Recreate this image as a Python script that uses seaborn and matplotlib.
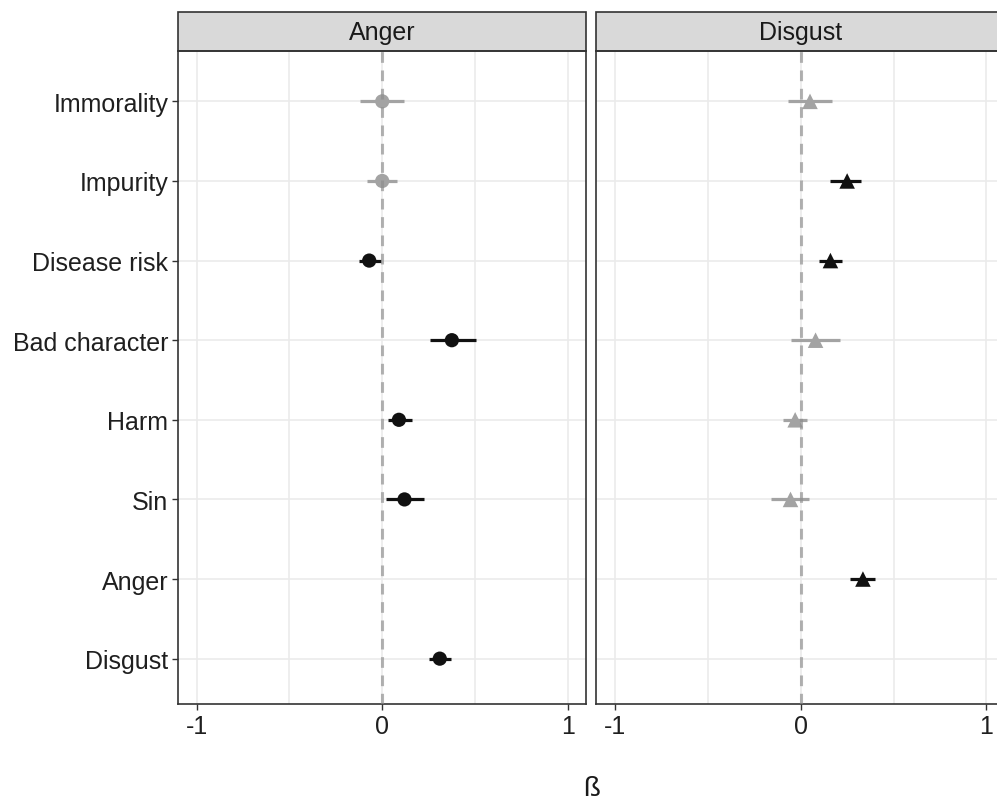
import numpy as np
import pandas as pd
import matplotlib
matplotlib.use("Agg")
import matplotlib.pyplot as plt
from matplotlib.patches import Rectangle
import seaborn as sns

# predictor order, top to bottom
predictors = ["Immorality", "Impurity", "Disease risk", "Bad character",
              "Harm", "Sin", "Anger", "Disgust"]
outcomes = ["Anger", "Disgust"]

# outcome: Anger
anger_preds = ["Immorality", "Impurity", "Disease risk", "Bad character",
               "Harm", "Sin", "Disgust"]
anger_beta = [0.00, 0.00, -0.07, 0.375, 0.09, 0.12, 0.31]
anger_lower = [-0.12, -0.08, -0.125, 0.255, 0.03, 0.02, 0.25]
anger_upper = [0.12, 0.08, -0.005, 0.505, 0.16, 0.225, 0.37]
anger_sig = [False, False, True, True, True, True, True]

# outcome: Disgust
disgust_preds = ["Immorality", "Impurity", "Disease risk", "Bad character",
                 "Harm", "Sin", "Anger"]
disgust_beta = [0.05, 0.25, 0.16, 0.08, -0.03, -0.055, 0.335]
disgust_lower = [-0.07, 0.16, 0.10, -0.05, -0.095, -0.16, 0.265]
disgust_upper = [0.17, 0.325, 0.22, 0.21, 0.035, 0.045, 0.40]
disgust_sig = [False, True, True, False, False, False, True]

x_ticks = [-1, 0, 1]
x_label = "ß"

df = pd.concat([
    pd.DataFrame({"outcome": "Anger", "predictor": anger_preds, "beta": anger_beta,
                  "lower": anger_lower, "upper": anger_upper, "sig": anger_sig}),
    pd.DataFrame({"outcome": "Disgust", "predictor": disgust_preds, "beta": disgust_beta,
                  "lower": disgust_lower, "upper": disgust_upper, "sig": disgust_sig}),
], ignore_index=True)
df["ypos"] = pd.Categorical(df["predictor"], categories=predictors).codes

sns.set_theme(style="white")
plt.rcParams["font.family"] = ["Liberation Sans", "DejaVu Sans"]
plt.rcParams["axes.unicode_minus"] = False

palette = {True: "#111111", False: "#A3A3A3"}
markers = {"Anger": "o", "Disgust": "^"}
border = "#333333"


def draw_panel(data, **kwargs):
    ax = plt.gca()
    outcome = data["outcome"].iloc[0]
    for sig, grp in data.groupby("sig"):
        ax.hlines(grp["ypos"], grp["lower"], grp["upper"], colors=palette[sig],
                  lw=2.3, zorder=3)
    sns.scatterplot(data=data, x="beta", y="ypos", hue="sig", palette=palette,
                    marker=markers[outcome], s=105 if outcome == "Anger" else 125,
                    edgecolor="none", legend=False, ax=ax, zorder=4)
    ax.axvline(0, color="#8c8c8c", alpha=0.65, lw=2.2, ls=(0, (3.5, 2.5)), zorder=5)


g = sns.FacetGrid(df, col="outcome", col_order=outcomes, sharex=True, sharey=True)
g.map_dataframe(draw_panel)
fig = g.figure
fig.set_size_inches(9.97, 8.03)
fig.subplots_adjust(left=0.1785, right=1.008, top=0.935, bottom=0.122, wspace=0.0245)

strip_h = 39 / 653
for i, (ax, name) in enumerate(zip(g.axes.flat, outcomes)):
    ax.set_title("")
    ax.set_xlim(-1.1, 1.1)
    ax.set_ylim(len(predictors) - 0.43, -0.63)
    ax.set_xticks(x_ticks)
    ax.set_xticklabels([str(t) for t in x_ticks])
    ax.set_xticks([-0.5, 0.5], minor=True)
    ax.set_yticks(range(len(predictors)))
    ax.set_yticklabels(predictors)
    ax.grid(True, which="major", color="#EBEBEB", lw=1.2)
    ax.grid(True, which="minor", axis="x", color="#EBEBEB", lw=1.2)
    ax.set_axisbelow(True)
    ax.tick_params(which="major", length=4, width=1, color=border,
                   labelsize=18, labelcolor="#1f1f1f", bottom=True, left=(i == 0),
                   labelleft=(i == 0), pad=3)
    ax.tick_params(which="minor", length=0)
    ax.set_xlabel("")
    ax.set_ylabel("")
    for sp in ax.spines.values():
        sp.set_visible(True)
        sp.set_color(border)
        sp.set_linewidth(1.2)
    ax.add_patch(Rectangle((0, 1), 1, strip_h, transform=ax.transAxes,
                           facecolor="#D9D9D9", edgecolor=border, lw=1.2,
                           clip_on=False))
    ax.text(0.5, 1 + strip_h / 2, name, transform=ax.transAxes, ha="center",
            va="center", fontsize=18, color="#1a1a1a")

fig.text(592 / 997, 1 - 789 / 803, x_label, ha="center", va="center",
         fontsize=20, color="#1a1a1a")

fig.savefig("out.png", dpi=100)
